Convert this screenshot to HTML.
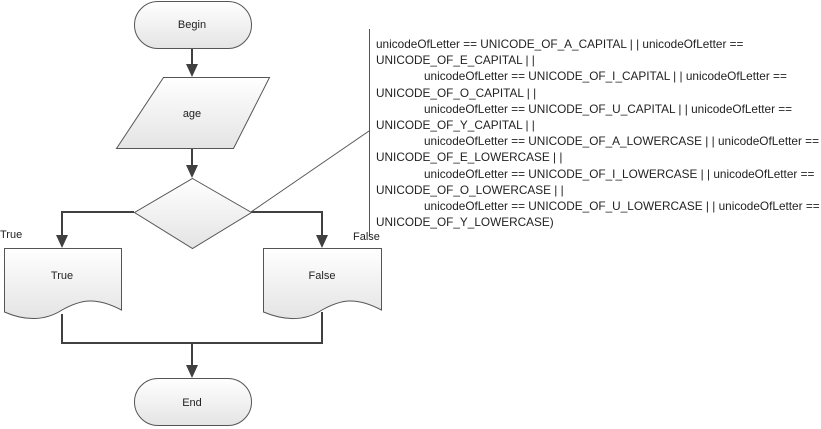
<!DOCTYPE html>
<html><head><meta charset="utf-8"><style>
body{margin:0;background:#fff;width:821px;height:429px;overflow:hidden}
svg{display:block}
text{font-family:"Liberation Sans",sans-serif;font-size:11px;fill:#222}
.c text{font-size:11.8px}
</style></head><body>
<svg width="821" height="429" viewBox="0 0 821 429">
<defs>
<linearGradient id="g" x1="0" y1="0" x2="0" y2="1"><stop offset="0" stop-color="#ffffff"/><stop offset="1" stop-color="#e4e4e4"/></linearGradient>
</defs>
<g stroke="#404040" stroke-width="2" fill="none">
<line x1="192" y1="48" x2="192" y2="66"/><path d="M186,64 L198,64 L192,77 Z" fill="#404040" stroke="none"/>
<line x1="192" y1="148" x2="192" y2="167"/><path d="M186,165 L198,165 L192,178 Z" fill="#404040" stroke="none"/>
<polyline points="134,212 62,212 62,237"/><path d="M56,235 L68,235 L62,248 Z" fill="#404040" stroke="none"/>
<polyline points="251,212 322,212 322,237"/><path d="M316,235 L328,235 L322,248 Z" fill="#404040" stroke="none"/>
<polyline points="62,314 62,343 322,343 322,312"/>
<line x1="192" y1="343" x2="192" y2="367"/><path d="M186,365 L198,365 L192,378 Z" fill="#404040" stroke="none"/>
</g>
<g stroke="#555" stroke-width="1" fill="url(#g)">
<rect x="134.5" y="1.5" width="117" height="47" rx="23.5"/>
<polygon points="163.5,77.5 269.5,77.5 233.5,148.5 116.5,148.5"/>
<polygon points="192.5,178.5 251.5,212.5 192.5,248.5 134.5,212.5"/>
<path d="M4.5,248.5 H121.5 V310 C95,296 80,300 62,310 C45,321 25,321 4.5,312 Z"/>
<path d="M263.5,248.5 H381.5 V310 C355,296 340,300 322,310 C305,321 285,321 263.5,312 Z"/>
<rect x="134.5" y="378.5" width="117" height="47" rx="23.5"/>
</g>
<g stroke="#555" stroke-width="1">
<line x1="369.5" y1="29" x2="369.5" y2="236"/>
<line x1="251" y1="212" x2="369" y2="131"/>
</g>
<text x="192" y="28" text-anchor="middle">Begin</text>
<text x="192" y="117" text-anchor="middle">age</text>
<text x="62" y="279" text-anchor="middle">True</text>
<text x="322" y="279" text-anchor="middle">False</text>
<text x="192" y="406" text-anchor="middle">End</text>
<text x="0" y="238">True</text>
<text x="353" y="240">False</text>
<g class="c">
<text x="376" y="48">unicodeOfLetter == UNICODE_OF_A_CAPITAL | | unicodeOfLetter ==</text>
<text x="376" y="64">UNICODE_OF_E_CAPITAL | |</text>
<text x="424" y="80">unicodeOfLetter == UNICODE_OF_I_CAPITAL | | unicodeOfLetter ==</text>
<text x="376" y="97">UNICODE_OF_O_CAPITAL | |</text>
<text x="424" y="113">unicodeOfLetter == UNICODE_OF_U_CAPITAL | | unicodeOfLetter ==</text>
<text x="376" y="129">UNICODE_OF_Y_CAPITAL | |</text>
<text x="424" y="145">unicodeOfLetter == UNICODE_OF_A_LOWERCASE | | unicodeOfLetter ==</text>
<text x="376" y="161">UNICODE_OF_E_LOWERCASE | |</text>
<text x="424" y="178">unicodeOfLetter == UNICODE_OF_I_LOWERCASE | | unicodeOfLetter ==</text>
<text x="376" y="194">UNICODE_OF_O_LOWERCASE | |</text>
<text x="424" y="210">unicodeOfLetter == UNICODE_OF_U_LOWERCASE | | unicodeOfLetter ==</text>
<text x="376" y="226">UNICODE_OF_Y_LOWERCASE)</text>
</g>
</svg>
</body></html>
